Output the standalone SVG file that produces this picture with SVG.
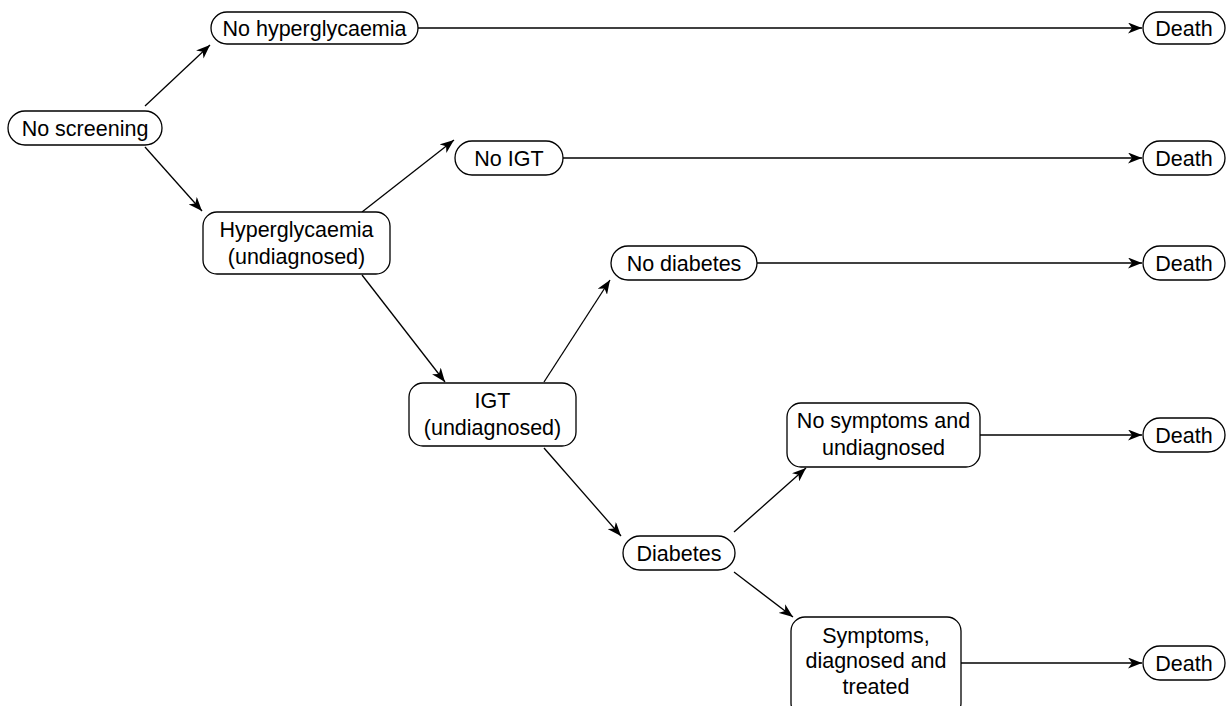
<svg xmlns="http://www.w3.org/2000/svg" width="1228" height="706" viewBox="0 0 1228 706">
<style>
.n rect{fill:#fff;stroke:#000;stroke-width:1.3}
.n text{font-family:"Liberation Sans",Arial,sans-serif;font-size:21.5px;fill:#000;text-anchor:middle}
.c line{stroke:#000;stroke-width:1.3;marker-end:url(#ah)}
</style>
<defs>
<marker id="ah" markerUnits="userSpaceOnUse" markerWidth="15" markerHeight="11" refX="14" refY="5.5" orient="auto">
<path d="M0,0 L14,5.5 L0,11 L4,5.5 z" fill="#000"/>
</marker>
</defs>
<rect width="1228" height="706" fill="#fff"/>
<g class="c" id="connectors">
<line x1="145" y1="106" x2="210" y2="45"/>
<line x1="145" y1="147" x2="202" y2="211"/>
<line x1="362" y1="212" x2="454" y2="140"/>
<line x1="362" y1="275" x2="445" y2="382"/>
<line x1="544" y1="382" x2="610" y2="280"/>
<line x1="544" y1="448" x2="621" y2="536"/>
<line x1="734" y1="532" x2="806" y2="468"/>
<line x1="734" y1="572" x2="793" y2="617"/>
<line x1="418" y1="28" x2="1142" y2="28"/>
<line x1="563" y1="158" x2="1142" y2="158"/>
<line x1="757" y1="263" x2="1142" y2="263"/>
<line x1="980" y1="435" x2="1142" y2="435"/>
<line x1="961" y1="663" x2="1142" y2="663"/>
</g>
<g class="n" id="no-screening"><rect x="8" y="111" width="154" height="34" rx="17"/><text x="85" y="135.5">No screening</text></g>
<g class="n" id="no-hyperglycaemia"><rect x="211" y="12" width="207" height="32" rx="16"/><text x="314.5" y="35.5">No hyperglycaemia</text></g>
<g class="n" id="hyperglycaemia"><rect x="203" y="212" width="187" height="62" rx="14"/><text x="296.5" y="237">Hyperglycaemia</text><text x="296.5" y="264">(undiagnosed)</text></g>
<g class="n" id="no-igt"><rect x="455" y="141" width="108" height="34" rx="17"/><text x="509" y="165.5">No IGT</text></g>
<g class="n" id="no-diabetes"><rect x="611" y="246" width="146" height="34" rx="17"/><text x="684" y="270.5">No diabetes</text></g>
<g class="n" id="igt"><rect x="409" y="383" width="167" height="63" rx="14"/><text x="492.5" y="408">IGT</text><text x="492.5" y="435">(undiagnosed)</text></g>
<g class="n" id="no-symptoms"><rect x="787" y="403" width="193" height="64" rx="14"/><text x="883.5" y="428">No symptoms and</text><text x="883.5" y="455">undiagnosed</text></g>
<g class="n" id="diabetes"><rect x="623" y="536" width="112" height="34" rx="17"/><text x="679" y="560.5">Diabetes</text></g>
<g class="n" id="symptoms"><rect x="791" y="617" width="170" height="100" rx="14"/><text x="876" y="643">Symptoms,</text><text x="876" y="668">diagnosed and</text><text x="876" y="694">treated</text></g>
<g class="n" id="death1"><rect x="1143" y="12" width="82" height="32" rx="16"/><text x="1184" y="35.5">Death</text></g>
<g class="n" id="death2"><rect x="1143" y="141" width="82" height="34" rx="17"/><text x="1184" y="165.5">Death</text></g>
<g class="n" id="death3"><rect x="1143" y="246" width="82" height="34" rx="17"/><text x="1184" y="270.5">Death</text></g>
<g class="n" id="death4"><rect x="1143" y="418" width="82" height="34" rx="17"/><text x="1184" y="442.5">Death</text></g>
<g class="n" id="death5"><rect x="1143" y="646" width="82" height="34" rx="17"/><text x="1184" y="670.5">Death</text></g>
</svg>
